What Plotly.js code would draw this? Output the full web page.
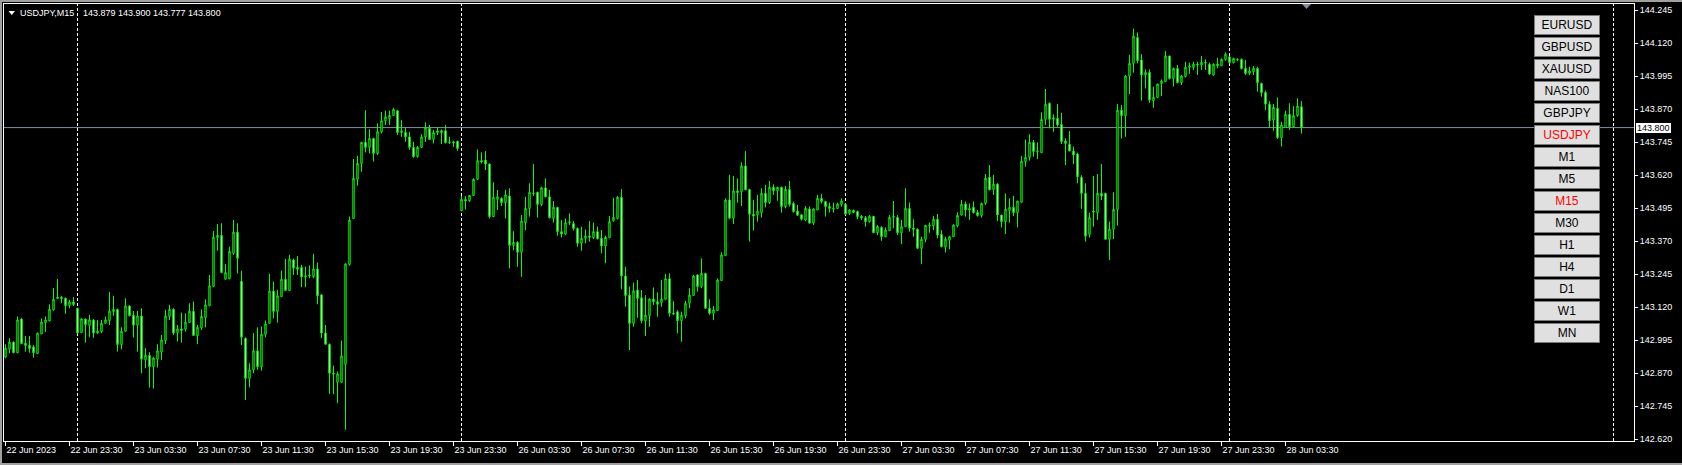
<!DOCTYPE html>
<html><head><meta charset="utf-8">
<script src="https://cdn.plot.ly/plotly-3.0.1.min.js"></script>
<style>
html,body{margin:0;padding:0;background:#000;}
#wrap{position:relative;width:1682px;height:465px;overflow:hidden;background:#000;}
#chart{position:absolute;left:0;top:0;width:1682px;height:465px;}
.fr{position:absolute;background:#a0a0a0;pointer-events:none;}
#pricelabel{position:absolute;background:#ffffff;color:#000000;font:9px 'Liberation Sans', Arial, sans-serif;
  line-height:10px;height:10px;padding:0 1px;white-space:nowrap;pointer-events:none;}
</style></head><body>
<div id="wrap"><div id="chart"></div>
<div class="fr" style="left:0;top:0;width:1682px;height:2px"></div>
<div class="fr" style="left:0;top:0;width:2px;height:465px"></div>
<div class="fr" style="left:0;top:463px;width:1682px;height:2px"></div>
<div id="pricelabel"></div>
</div>
<script>
// ---------------- DATA ----------------
const symbol = 'USDJPY';
const timeframe = 'M15';
const firstBar = '2023-06-22 19:30';   // time of the first 15-minute bar
const barMinutes = 15;

const openP = [
142.931,142.961,142.988,142.948,143.075,142.984,142.976,142.970,142.945,143.019,
143.062,143.068,143.110,143.153,143.158,143.154,143.126,143.140,143.116,143.024,
143.075,143.051,143.072,143.022,143.028,143.059,143.070,143.104,143.112,142.979,
143.029,143.125,143.090,143.052,143.087,142.921,142.938,142.895,142.923,142.951,
142.994,143.085,143.112,143.024,143.038,143.037,143.062,143.105,143.012,143.042,
143.081,143.126,143.199,143.383,143.392,143.226,143.228,143.324,143.404,143.218,
143.003,142.851,142.883,142.955,142.895,143.018,143.059,143.181,143.104,143.160,
143.226,143.183,143.299,143.271,143.271,143.234,143.239,143.236,143.265,143.167,
143.022,142.980,142.870,142.836,142.836,142.904,143.282,143.456,143.604,143.664,
143.744,143.725,143.759,143.702,143.784,143.826,143.834,143.846,143.864,143.781,
143.782,143.765,143.725,143.690,143.725,143.765,143.797,143.755,143.781,143.788,
143.788,143.743,143.746,143.748,143.485,143.528,143.523,143.543,143.604,143.675,
143.677,143.662,143.463,143.528,143.532,143.516,143.541,143.354,143.365,143.328,
143.440,143.494,143.552,143.555,143.509,143.572,143.538,143.456,143.498,143.406,
143.397,143.440,143.437,143.418,143.362,143.381,143.390,143.384,143.406,143.381,
143.352,143.383,143.447,143.456,143.536,143.238,143.166,143.059,143.185,143.156,
143.069,143.088,143.151,143.141,143.138,143.150,143.228,143.097,143.103,143.069,
143.088,143.135,143.164,143.242,143.198,143.248,143.116,143.097,143.107,143.221,
143.315,143.526,143.457,143.560,143.557,143.655,143.566,143.472,143.469,143.478,
143.551,143.516,143.574,143.561,143.574,143.501,143.566,143.513,143.484,143.470,
143.450,143.492,143.438,143.488,143.532,143.520,143.501,143.494,143.494,143.509,
143.510,143.475,143.487,143.482,143.464,143.459,143.444,143.464,143.402,143.422,
143.387,143.410,143.460,143.460,143.402,143.425,143.494,143.420,143.415,143.343,
143.377,143.428,143.428,143.453,143.396,143.347,143.374,143.387,143.429,143.469,
143.511,143.488,143.498,143.479,143.467,143.513,143.612,143.566,143.586,143.469,
143.444,143.486,143.498,143.478,143.517,143.671,143.687,143.744,143.709,143.705,
143.831,143.892,143.831,143.835,143.812,143.749,143.737,143.711,143.700,143.611,
143.551,143.396,143.484,143.478,143.551,143.551,143.377,143.415,143.490,143.866,
143.845,143.995,144.043,144.141,144.056,143.999,144.009,143.902,143.914,143.967,
143.974,144.071,143.986,144.024,143.970,143.993,144.028,144.028,144.040,144.037,
144.046,144.040,143.999,144.040,144.034,144.058,144.068,144.046,144.058,144.058,
144.024,144.005,144.011,144.024,143.967,143.933,143.888,143.829,143.873,143.762,
143.801,143.850,143.803,143.845,143.879];

const highP = [
142.980,143.003,142.990,143.085,143.080,143.011,143.011,142.977,143.024,143.078,
143.085,143.131,143.193,143.227,143.163,143.157,143.148,143.159,143.118,143.078,
143.077,143.091,143.075,143.072,143.072,143.085,143.178,143.163,143.114,143.044,
143.154,143.127,143.106,143.106,143.116,142.965,142.950,142.931,142.980,143.015,
143.110,143.129,143.116,143.053,143.100,143.097,143.135,143.141,143.053,143.112,
143.150,143.242,143.409,143.435,143.438,143.284,143.349,143.450,143.438,143.258,
143.005,142.908,143.022,143.044,143.047,143.070,143.246,143.217,143.186,143.259,
143.303,143.318,143.304,143.314,143.280,143.274,143.278,143.322,143.289,143.167,
143.053,142.982,142.899,142.877,142.994,143.286,143.463,143.681,143.693,143.746,
143.866,143.794,143.761,143.816,143.859,143.864,143.864,143.875,143.866,143.828,
143.799,143.784,143.746,143.730,143.775,143.820,143.810,143.791,143.801,143.793,
143.810,143.765,143.750,143.750,143.541,143.541,143.545,143.608,143.717,143.706,
143.711,143.664,143.593,143.564,143.536,143.564,143.570,143.408,143.370,143.469,
143.538,143.589,143.662,143.557,143.576,143.608,143.564,143.522,143.500,143.450,
143.456,143.475,143.446,143.422,143.425,143.415,143.446,143.440,143.425,143.412,
143.391,143.465,143.534,143.541,143.567,143.273,143.198,143.213,143.223,143.185,
143.166,143.153,143.195,143.176,143.223,143.246,143.248,143.143,143.109,143.103,
143.144,143.192,143.242,143.245,143.305,143.250,143.150,143.125,143.229,143.328,
143.532,143.621,143.617,143.608,143.668,143.711,143.568,143.526,143.545,143.570,
143.583,143.598,143.585,143.576,143.576,143.579,143.598,143.520,143.507,143.473,
143.503,143.501,143.494,143.545,143.549,143.523,143.516,143.516,143.516,143.532,
143.513,143.491,143.489,143.486,143.469,143.465,143.469,143.465,143.431,143.427,
143.422,143.469,143.522,143.469,143.450,143.570,143.517,143.453,143.419,143.387,
143.431,143.441,143.465,143.473,143.412,143.387,143.390,143.434,143.479,143.526,
143.520,143.513,143.520,143.488,143.516,143.624,143.658,143.621,143.589,143.469,
143.551,143.532,143.541,143.522,143.692,143.755,143.775,143.753,143.744,143.858,
143.946,143.895,143.850,143.889,143.856,143.759,143.787,143.728,143.705,143.620,
143.589,143.478,143.617,143.624,143.662,143.551,143.444,143.555,143.889,143.885,
143.999,144.075,144.175,144.160,144.078,144.020,144.020,143.955,143.965,143.982,
144.090,144.071,144.027,144.037,143.999,144.049,144.046,144.049,144.049,144.071,
144.058,144.046,144.043,144.064,144.062,144.085,144.071,144.064,144.062,144.062,
144.056,144.030,144.033,144.030,143.970,143.940,143.900,143.889,143.914,143.822,
143.864,143.892,143.881,143.911,143.900];

const lowP = [
142.927,142.946,142.946,142.946,142.980,142.952,142.948,142.929,142.943,143.018,
143.027,143.066,143.107,143.153,143.135,143.095,143.116,143.125,143.020,143.022,
142.986,143.006,143.004,143.019,143.022,143.057,143.053,143.088,142.952,142.961,
143.027,143.085,143.005,142.952,142.870,142.889,142.816,142.812,142.892,142.921,
142.981,143.072,143.015,142.990,142.986,143.028,143.060,143.011,142.981,143.034,
143.044,143.124,143.196,143.334,143.249,143.224,143.226,143.318,143.248,142.977,
142.769,142.817,142.870,142.883,142.880,143.006,143.059,143.078,143.062,143.160,
143.183,143.183,143.242,143.242,143.196,143.196,143.230,143.230,143.131,143.003,
142.980,142.792,142.791,142.757,142.835,142.656,143.277,143.456,143.580,143.633,
143.706,143.702,143.671,143.696,143.778,143.810,143.810,143.844,143.772,143.765,
143.746,143.715,143.686,143.686,143.723,143.746,143.753,143.740,143.772,143.738,
143.740,143.738,143.727,143.712,143.485,143.490,143.519,143.541,143.604,143.664,
143.639,143.456,143.461,143.488,143.503,143.456,143.267,143.336,143.273,143.235,
143.412,143.463,143.541,143.459,143.503,143.536,143.456,143.440,143.391,143.384,
143.393,143.431,143.410,143.349,143.334,143.362,143.368,143.378,143.377,143.324,
143.286,143.383,143.444,143.452,143.188,143.122,142.958,143.046,143.080,143.059,
143.011,143.046,143.128,143.084,143.122,143.147,143.084,143.090,143.021,142.989,
143.078,143.116,143.164,143.179,143.192,143.114,143.091,143.072,143.107,143.221,
143.315,143.453,143.435,143.516,143.503,143.564,143.368,143.410,143.444,143.460,
143.498,143.511,143.545,143.523,143.478,143.494,143.501,143.478,143.465,143.448,
143.446,143.438,143.431,143.488,143.513,143.463,143.478,143.478,143.492,143.501,
143.469,143.469,143.478,143.453,143.450,143.425,143.440,143.402,143.393,143.371,
143.385,143.410,143.419,143.393,143.359,143.425,143.406,143.387,143.340,143.284,
143.366,143.402,143.412,143.381,143.347,143.327,143.340,143.387,143.422,143.467,
143.463,143.450,143.475,143.463,143.459,143.507,143.564,143.545,143.446,143.422,
143.397,143.440,143.465,143.422,143.516,143.652,143.675,143.690,143.681,143.705,
143.810,143.797,143.784,143.803,143.738,143.658,143.711,143.662,143.589,143.492,
143.368,143.384,143.425,143.450,143.526,143.377,143.299,143.378,143.429,143.759,
143.765,143.927,144.008,144.043,143.902,143.948,143.894,143.875,143.911,143.919,
143.974,143.982,143.955,143.967,143.961,143.990,144.003,144.018,143.999,144.018,
144.018,143.999,143.996,144.024,144.033,144.053,144.043,144.043,144.052,144.020,
143.999,143.999,143.999,143.936,143.917,143.866,143.801,143.788,143.757,143.728,
143.801,143.791,143.801,143.841,143.777];

const closeP = [
142.965,142.988,142.948,143.072,142.982,142.975,142.964,142.948,143.022,143.064,
143.072,143.112,143.150,143.158,143.153,143.126,143.140,143.130,143.022,143.076,
143.054,143.072,143.022,143.030,143.059,143.072,143.105,143.112,142.979,143.029,
143.125,143.088,143.052,143.087,142.923,142.938,142.895,142.928,142.955,142.996,
143.087,143.112,143.022,143.038,143.032,143.063,143.105,143.013,143.044,143.085,
143.129,143.201,143.385,143.392,143.251,143.252,143.331,143.404,143.305,143.006,
142.851,142.883,142.955,142.895,143.018,143.057,143.181,143.104,143.163,143.226,
143.183,143.302,143.268,143.264,143.234,143.239,143.242,143.265,143.163,143.022,
142.980,142.870,142.867,142.868,142.936,143.284,143.450,143.608,143.664,143.744,
143.725,143.759,143.702,143.784,143.826,143.841,143.846,143.869,143.781,143.788,
143.765,143.725,143.690,143.725,143.765,143.799,143.755,143.781,143.788,143.781,
143.743,143.746,143.743,143.721,143.528,143.522,143.543,143.604,143.675,143.670,
143.662,143.463,143.536,143.538,143.516,143.545,143.354,143.365,143.328,143.446,
143.494,143.555,143.551,143.509,143.572,143.538,143.459,143.498,143.406,143.397,
143.440,143.443,143.418,143.362,143.381,143.390,143.385,143.406,143.379,143.352,
143.384,143.444,143.460,143.536,143.238,143.164,143.059,143.182,143.153,143.069,
143.090,143.151,143.141,143.131,143.151,143.228,143.097,143.094,143.069,143.089,
143.135,143.166,143.238,143.198,143.248,143.116,143.097,143.110,143.223,143.318,
143.526,143.457,143.560,143.554,143.655,143.564,143.472,143.465,143.484,143.551,
143.516,143.574,143.561,143.574,143.501,143.566,143.509,143.482,143.468,143.453,
143.494,143.438,143.492,143.532,143.520,143.501,143.494,143.492,143.511,143.522,
143.472,143.488,143.479,143.463,143.458,143.444,143.464,143.402,143.425,143.387,
143.412,143.460,143.464,143.402,143.425,143.494,143.419,143.415,143.343,143.377,
143.430,143.431,143.453,143.393,143.349,143.378,143.387,143.431,143.467,143.510,
143.488,143.494,143.478,143.467,143.513,143.608,143.564,143.586,143.469,143.444,
143.491,143.498,143.478,143.522,143.673,143.687,143.744,143.709,143.711,143.831,
143.888,143.831,143.837,143.810,143.747,143.740,143.711,143.696,143.614,143.551,
143.389,143.459,143.480,143.551,143.541,143.377,143.415,143.490,143.866,143.845,
143.995,144.043,144.146,144.053,143.999,144.009,143.904,143.914,143.965,143.976,
144.071,143.986,144.024,143.970,143.995,144.028,144.033,144.040,144.037,144.046,
144.044,144.003,144.040,144.035,144.058,144.078,144.046,144.062,144.056,144.023,
144.005,144.014,144.024,143.970,143.932,143.889,143.826,143.876,143.762,143.810,
143.850,143.803,143.845,143.881,143.800];

const timeTickTimes = [
'2023-06-22 19:30','2023-06-22 23:30','2023-06-23 03:30','2023-06-23 07:30','2023-06-23 11:30',
'2023-06-23 15:30','2023-06-23 19:30','2023-06-23 23:30','2023-06-26 03:30','2023-06-26 07:30',
'2023-06-26 11:30','2023-06-26 15:30','2023-06-26 19:30','2023-06-26 23:30','2023-06-27 03:30',
'2023-06-27 07:30','2023-06-27 11:30','2023-06-27 15:30','2023-06-27 19:30','2023-06-27 23:30',
'2023-06-28 03:30'];
const timeTickLabels = [
'22 Jun 2023','22 Jun 23:30','23 Jun 03:30','23 Jun 07:30','23 Jun 11:30',
'23 Jun 15:30','23 Jun 19:30','23 Jun 23:30','26 Jun 03:30','26 Jun 07:30',
'26 Jun 11:30','26 Jun 15:30','26 Jun 19:30','26 Jun 23:30','27 Jun 03:30',
'27 Jun 07:30','27 Jun 11:30','27 Jun 15:30','27 Jun 19:30','27 Jun 23:30',
'28 Jun 03:30'];
const priceTicks = [144.245,144.120,143.995,143.870,143.745,143.620,143.495,143.370,143.245,143.120,142.995,142.870,142.745,142.620];
const daySeparators = ['2023-06-23 00:00','2023-06-26 00:00','2023-06-27 00:00','2023-06-28 00:00','2023-06-29 00:00'];
const symbolButtons = ['EURUSD','GBPUSD','XAUUSD','NAS100','GBPJPY','USDJPY'];
const timeframeButtons = ['M1','M5','M15','M30','H1','H4','D1','W1','MN'];

// ---------------- BUILD ----------------
function pad(n){return String(n).padStart(2,'0');}
function makeTimes(start, n){
  const [d,t] = start.split(' ');
  const [Y,M,D] = d.split('-').map(Number);
  const [h,m] = t.split(':').map(Number);
  let ms = Date.UTC(Y,M-1,D,h,m);
  const out = [];
  while (out.length < n){
    const dt = new Date(ms);
    const wd = dt.getUTCDay();
    if (wd !== 0 && wd !== 6){
      out.push(dt.getUTCFullYear()+'-'+pad(dt.getUTCMonth()+1)+'-'+pad(dt.getUTCDate())+' '+pad(dt.getUTCHours())+':'+pad(dt.getUTCMinutes()));
    }
    ms += barMinutes*60000;
  }
  return out;
}
const times = makeTimes(firstBar, closeP.length);
const last = closeP.length - 1;
const lastClose = closeP[last];

const FONT = 'Liberation Sans, Arial, sans-serif';

const trace = {
  type:'candlestick', x:times, open:openP, high:highP, low:lowP, close:closeP,
  increasing:{line:{color:'#00ff00', width:1}, fillcolor:'#000000'},
  decreasing:{line:{color:'#00ff00', width:1}, fillcolor:'#ffffff'},
  whiskerwidth:0, hoverinfo:'skip', showlegend:false
};

const shapes = [];
daySeparators.forEach(t => shapes.push({
  type:'line', xref:'x', yref:'paper', x0:t, x1:t, y0:0, y1:1, layer:'below',
  line:{color:'#ffffff', width:1, dash:'3px,2px'}
}));
shapes.push({type:'line', xref:'paper', yref:'y', x0:0, x1:1, y0:lastClose, y1:lastClose, layer:'below',
  line:{color:'#7f8fa0', width:1}});
// header triangle
shapes.push({type:'path', xref:'paper', yref:'paper', xsizemode:'pixel', ysizemode:'pixel', xanchor:0, yanchor:1,
  path:'M4.5,-7 L11,-7 L7.75,-11 Z', fillcolor:'#ffffff', line:{width:0}});
// chart shift marker
shapes.push({type:'path', xref:'paper', yref:'paper', xsizemode:'pixel', ysizemode:'pixel', xanchor:0, yanchor:1,
  path:'M1298,0 L1307,0 L1302.5,-5 Z', fillcolor:'#7f8fa0', line:{width:0}});

const annotations = [];
annotations.push({xref:'paper', yref:'paper', x:0, y:1, xanchor:'left', yanchor:'middle', xshift:14, yshift:-8.5,
  text:symbol+','+timeframe, showarrow:false, font:{family:FONT, size:9, color:'#ffffff'}});
annotations.push({xref:'paper', yref:'paper', x:0, y:1, xanchor:'left', yanchor:'middle', xshift:77, yshift:-8.5,
  text:[openP[last],highP[last],lowP[last],closeP[last]].map(v=>v.toFixed(3)).join(' '),
  showarrow:false, font:{family:FONT, size:9, color:'#ffffff'}});
// buttons
const allButtons = symbolButtons.concat(timeframeButtons);
allButtons.forEach((b,k) => {
  const active = (b === symbol || b === timeframe);
  annotations.push({xref:'paper', yref:'paper', x:1, y:1, xanchor:'right', yanchor:'top',
    xshift:-34, yshift:-11 - 22*k, text:b, showarrow:false, width:64, height:18,
    bgcolor:'#e0e0e0', bordercolor:'#7a7a7a', borderwidth:1, borderpad:0,
    font:{family:FONT, size:12, color: active ? '#ff0000' : '#000000'}});
});

const layout = {
  width:1682, height:465,
  margin:{l:4, r:48, t:4, b:24, pad:0},
  paper_bgcolor:'#000000', plot_bgcolor:'#000000',
  showlegend:false, boxgap:0.5,
  font:{family:FONT, size:9, color:'#ffffff'},
  xaxis:{
    type:'date', range:['2023-06-22 19:24:22', '2023-06-29 01:16:52'],
    rangebreaks:[{bounds:['sat','mon']}],
    rangeslider:{visible:false}, fixedrange:true,
    showgrid:false, zeroline:false, showline:true, linecolor:'#ffffff', linewidth:1, mirror:true,
    ticks:'outside', ticklen:4, tickcolor:'#ffffff', tickwidth:1,
    tickmode:'array', tickvals:timeTickTimes, ticktext:timeTickLabels,
    ticklabelposition:'outside right',
    tickfont:{family:FONT, size:9, color:'#ffffff'}
  },
  yaxis:{
    side:'right', range:[142.6137, 144.2677], fixedrange:true,
    showgrid:false, zeroline:false, showline:true, linecolor:'#ffffff', linewidth:1, mirror:true,
    ticks:'outside', ticklen:3, tickcolor:'#ffffff', tickwidth:1,
    tickmode:'array', tickvals:priceTicks, ticktext:priceTicks.map(v=>v.toFixed(3)),
    tickfont:{family:FONT, size:9, color:'#ffffff'}
  },
  shapes:shapes, annotations:annotations
};

Plotly.newPlot('chart', [trace], layout, {staticPlot:true, displayModeBar:false}).then(gd => {
  // current-price label placed with the library's own y scale
  const fl = gd._fullLayout, ya = fl.yaxis, xa = fl.xaxis;
  const yPix = ya._offset + ya.l2p(lastClose);
  const xRight = xa._offset + xa._length;
  const lab = document.getElementById('pricelabel');
  lab.textContent = lastClose.toFixed(3);
  lab.style.left = (xRight + 2) + 'px';
  lab.style.top = (yPix - 5) + 'px';
});
</script>
</body></html>
